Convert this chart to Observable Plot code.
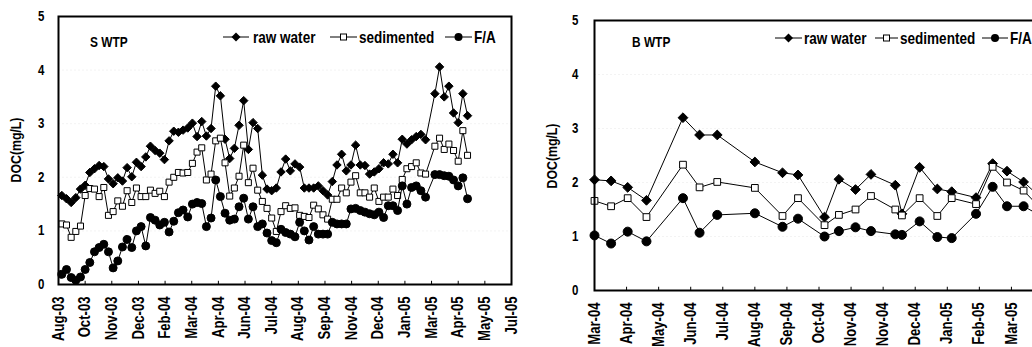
<!DOCTYPE html>
<html><head><meta charset="utf-8">
<script src="https://cdn.jsdelivr.net/npm/d3@7"></script>
<script src="https://cdn.jsdelivr.net/npm/@observablehq/plot@0.6"></script>
<style>
html,body{margin:0;padding:0;background:#fff;overflow:hidden;}
#wrap{position:relative;width:1032px;height:347px;overflow:hidden;background:#fff;}
.abs{position:absolute;white-space:nowrap;font-family:"Liberation Sans",Arial,sans-serif;font-weight:bold;color:#000;line-height:1;}
.plotbox{position:absolute;top:0;}
.plotbox svg{max-width:none !important;}
</style></head><body><div id="wrap"></div>
<script>
// ---------- data ----------
const seriesNames = ["raw water", "sedimented", "F/A"];
const panelTitles = ["S WTP", "B WTP"];
const yLabel = "DOC(mg/L)";
const yTicks = [0, 1, 2, 3, 4, 5];

// S WTP (weekly samples)
const sDates = ["2003-08-31","2003-09-07","2003-09-14","2003-09-21","2003-09-28","2003-10-05","2003-10-12","2003-10-19","2003-10-26","2003-11-02",
"2003-11-09","2003-11-16","2003-11-23","2003-11-30","2003-12-07","2003-12-14","2003-12-21","2003-12-28","2004-01-04","2004-01-11",
"2004-01-18","2004-01-25","2004-02-01","2004-02-08","2004-02-15","2004-02-22","2004-02-29","2004-03-07","2004-03-14","2004-03-21",
"2004-03-28","2004-04-04","2004-04-11","2004-04-18","2004-04-25","2004-05-02","2004-05-09","2004-05-16","2004-05-23","2004-05-30",
"2004-06-06","2004-06-13","2004-06-20","2004-06-27","2004-07-04","2004-07-11","2004-07-18","2004-07-25","2004-08-01","2004-08-08",
"2004-08-15","2004-08-22","2004-08-29","2004-09-05","2004-09-12","2004-09-19","2004-09-26","2004-10-03","2004-10-10","2004-10-17",
"2004-10-24","2004-10-31","2004-11-07","2004-11-14","2004-11-21","2004-11-28","2004-12-05","2004-12-12","2004-12-19","2004-12-26",
"2005-01-02","2005-01-09","2005-01-16","2005-01-23","2005-01-30","2005-02-06","2005-02-13","2005-02-20","2005-02-27",
"2005-03-13","2005-03-20","2005-03-27","2005-04-03","2005-04-10","2005-04-17","2005-04-24","2005-05-01"];
const sRaw = [1.66,1.60,1.53,1.62,1.78,1.85,2.09,2.16,2.22,2.20,
1.97,1.88,1.99,1.93,2.18,2.01,2.28,2.20,2.38,2.58,
2.50,2.45,2.33,2.68,2.86,2.84,2.88,2.92,3.01,2.76,
3.04,2.77,2.91,3.70,3.52,2.71,2.35,2.54,2.97,3.43,
2.52,3.02,2.91,2.04,1.78,1.75,1.80,2.10,2.34,2.12,
2.25,2.19,1.80,1.80,1.80,1.84,1.75,1.67,1.92,2.23,
2.43,2.12,2.23,2.60,2.23,2.22,2.06,2.10,2.16,2.27,
2.25,2.43,2.27,2.71,2.62,2.70,2.76,2.80,2.70,
3.56,4.06,3.50,3.70,3.20,3.02,3.56,3.15];
const sSed = [1.13,1.11,0.88,0.99,1.09,1.66,1.79,1.78,1.64,1.81,
1.29,1.36,1.56,1.46,1.75,1.53,1.80,1.64,1.64,1.76,
1.70,1.74,1.64,1.91,2.00,2.09,2.08,2.09,2.26,2.47,
2.55,1.95,2.06,2.68,2.73,2.27,1.65,1.80,2.02,2.60,
1.90,2.17,1.76,1.55,1.42,1.24,0.99,1.36,1.47,1.42,
1.43,1.29,1.27,1.25,1.48,1.41,1.30,1.22,1.59,1.59,
1.80,1.71,1.91,2.03,1.71,1.71,1.63,1.80,1.55,1.63,
1.63,1.78,1.66,1.96,2.16,2.20,2.27,2.08,2.06,
2.58,2.73,2.52,2.62,2.50,2.30,2.87,2.41];
const sFA = [0.19,0.28,0.13,0.08,0.14,0.28,0.41,0.61,0.69,0.75,
0.61,0.31,0.44,0.70,0.84,0.69,1.00,1.08,0.72,1.25,
1.20,1.11,1.16,0.98,1.18,1.34,1.39,1.26,1.50,1.53,
1.51,1.08,1.24,1.95,1.64,1.33,1.20,1.22,1.45,1.61,
1.22,1.45,1.08,1.13,0.96,0.82,0.78,1.03,0.97,0.94,
0.89,1.16,1.00,0.83,1.08,0.94,0.94,0.94,1.16,1.13,
1.13,1.13,1.41,1.42,1.38,1.35,1.32,1.30,1.35,1.25,
1.47,1.47,1.38,1.84,1.50,1.81,1.84,1.75,1.63,
2.05,2.05,2.03,2.02,1.95,1.84,1.99,1.60];
const sTicks = ["2003-08-26","2003-10-05","2003-11-14","2003-12-24","2004-02-02","2004-03-13","2004-04-22","2004-06-01","2004-07-11",
"2004-08-20","2004-09-29","2004-11-08","2004-12-18","2005-01-27","2005-03-08","2005-04-17","2005-05-27","2005-07-06"];

// B WTP
const bDates = ["2004-03-14","2004-03-29","2004-04-13","2004-04-30","2004-06-02","2004-06-17","2004-07-03","2004-08-06","2004-08-31","2004-09-14",
"2004-10-08","2004-10-21","2004-11-05","2004-11-19","2004-12-11","2004-12-17","2005-01-02","2005-01-18","2005-01-31","2005-02-22",
"2005-03-09","2005-03-22","2005-04-06","2005-04-20"];
const bRaw = [2.05,2.03,1.91,1.67,3.20,2.88,2.88,2.38,2.18,2.14,1.36,2.06,1.87,2.15,1.95,1.42,2.28,1.88,1.83,1.72,2.35,2.21,2.01,1.75];
const bSed = [1.66,1.56,1.71,1.36,2.33,1.91,2.01,1.90,1.38,1.71,1.21,1.40,1.50,1.75,1.50,1.39,1.71,1.38,1.71,1.60,2.29,2.00,1.85,1.55];
const bFA  = [1.02,0.87,1.09,0.91,1.71,1.07,1.40,1.43,1.18,1.33,1.00,1.10,1.17,1.10,1.04,1.03,1.28,0.99,0.97,1.42,1.92,1.56,1.56,1.40];
const bTicks = ["2004-03-14","2004-04-12","2004-05-11","2004-06-09","2004-07-08","2004-08-06","2004-09-04","2004-10-03","2004-11-01",
"2004-11-30","2004-12-29","2005-01-27","2005-02-25","2005-03-26","2005-04-24"];

// ---------- drawing ----------
const FONT = '"Liberation Sans",Arial,sans-serif';
const NARROW = 0.82; // horizontal squeeze to imitate a condensed face
const parse = d3.utcParse("%Y-%m-%d");
const fmt = d3.utcFormat("%b-%y");
const symbols = ["diamond2", "square", "circle"];
const fills = ["black", "white", "black"];
const wrap = document.getElementById("wrap");

function squeeze(svg) {
  svg.querySelectorAll('g[aria-label$="tick label"] text').forEach(t => {
    const xa = t.getAttribute("x");
    const x = xa && /^-?[\d.]+$/.test(xa) ? +xa : 0;
    const tr = t.getAttribute("transform") || "";
    t.setAttribute("transform", `${tr} translate(${x},0) scale(${NARROW},1) translate(${-x},0)`);
  });
}

function makePanel(p) {
  const ticks = p.ticks.map(parse);
  const marks = [
    Plot.gridY([1, 2, 3, 4], {stroke: "#8c8c8c", strokeDasharray: "2,2", strokeWidth: 1}),
    Plot.axisY(yTicks, {tickSize: 0, tickPadding: p.tickPad, fontSize: 14, tickFormat: "d", label: null}),
    Plot.axisX(ticks, {tickFormat: fmt, tickRotate: -90, tickSize: 0, tickPadding: 12, fontSize: 16, label: null}),
    Plot.ruleX(ticks, {y1: 0, y2: 0.06, stroke: "black"})
  ];
  p.series.forEach((vals, s) => {
    const rows = p.dates.map((d, i) => ({date: parse(d), v: vals[i], name: seriesNames[s]}));
    marks.push(Plot.line(rows, {x: "date", y: "v", stroke: "black", strokeWidth: 1}));
    marks.push(Plot.dot(rows, {x: "date", y: "v", symbol: symbols[s], r: p.r[s], fill: fills[s], stroke: "black", strokeWidth: 1}));
  });
  marks.push(Plot.frame({stroke: "black", strokeWidth: 2}));
  const svg = Plot.plot({
    width: p.width, height: 347,
    marginLeft: p.ml, marginRight: p.mr, marginTop: p.mt, marginBottom: p.mb,
    style: {fontFamily: FONT, fontWeight: "bold", background: "transparent", color: "black", overflow: "visible", maxWidth: "none"},
    x: {type: "utc", domain: [ticks[0], ticks[ticks.length - 1]]},
    y: {domain: [0, 5]},
    marks
  });
  squeeze(svg);
  svg.style.maxWidth = "none";
  const box = document.createElement("div");
  box.className = "plotbox";
  box.style.left = p.left + "px";
  box.style.width = p.width + "px";
  box.appendChild(svg);
  wrap.appendChild(box);
}

function text(str, x, y, size, opts = {}) {
  const el = document.createElement("div");
  el.className = "abs";
  el.textContent = str;
  el.style.fontSize = size + "px";
  el.style.left = x + "px";
  el.style.top = y + "px";
  if (opts.rotate) {
    el.style.transform = `translate(-50%,-50%) rotate(-90deg) scaleX(${NARROW})`;
  } else {
    el.style.transformOrigin = "0 50%";
    el.style.transform = `translateY(-50%) scaleX(${NARROW})`;
  }
  wrap.appendChild(el);
}

function legendSymbol(type, x, y, w) {
  const ns = "http://www.w3.org/2000/svg";
  const svg = document.createElementNS(ns, "svg");
  svg.setAttribute("width", w); svg.setAttribute("height", 14);
  svg.style.position = "absolute"; svg.style.left = x + "px"; svg.style.top = (y - 7) + "px";
  const c = w / 2;
  let html = `<line x1="0" x2="${w}" y1="7" y2="7" stroke="black" stroke-width="1"/>`;
  if (type === 0) html += `<polygon points="${c},2.5 ${c+4.5},7 ${c},11.5 ${c-4.5},7" fill="black"/>`;
  if (type === 1) html += `<rect x="${c-3}" y="4" width="6" height="6" fill="white" stroke="black"/>`;
  if (type === 2) html += `<circle cx="${c}" cy="7" r="4" fill="black"/>`;
  svg.innerHTML = html;
  wrap.appendChild(svg);
}

makePanel({left: 0, width: 516, ml: 58, mr: 5, mt: 16, mb: 63, tickPad: 14,
  dates: sDates, series: [sRaw, sSed, sFA], ticks: sTicks, r: [3.8, 3.4, 4]});
makePanel({left: 516, width: 540, ml: 78, mr: 13, mt: 20, mb: 57, tickPad: 16,
  dates: bDates, series: [bRaw, bSed, bFA], ticks: bTicks, r: [4.4, 3.8, 4.5]});

// titles and axis labels
text(panelTitles[0], 90, 42, 14.5);
text(panelTitles[1], 632, 42, 14.5);
text(yLabel, 15, 150, 15, {rotate: true});
text(yLabel, 551, 156, 15, {rotate: true});

// legends
const legL = [{sx: 223, w: 26, tx: 253}, {sx: 330, w: 27, tx: 359}, {sx: 445, w: 27, tx: 474}];
const legR = [{sx: 775, w: 27, tx: 804}, {sx: 875, w: 23, tx: 900}, {sx: 982, w: 26, tx: 1010}];
legL.forEach((l, i) => { legendSymbol(i, l.sx, 37, l.w); text(seriesNames[i], l.tx, 37, 16.5); });
legR.forEach((l, i) => { legendSymbol(i, l.sx, 38, l.w); text(seriesNames[i], l.tx, 38, 16.5); });
</script></body></html>
